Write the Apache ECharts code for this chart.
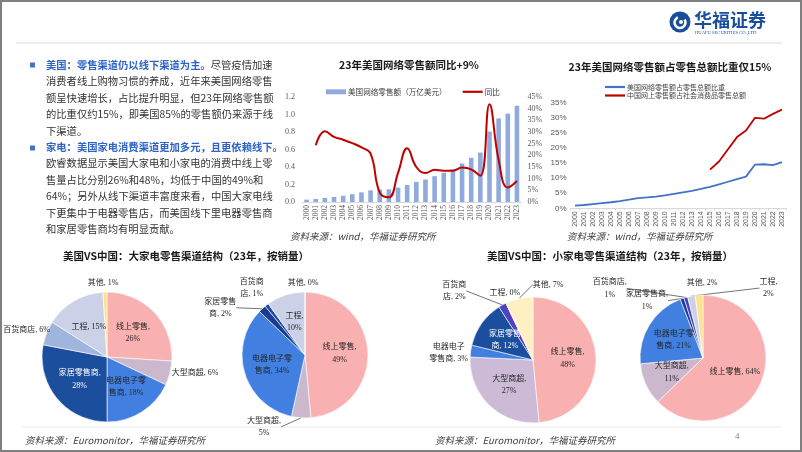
<!DOCTYPE html>
<html><head><meta charset="utf-8">
<script src="https://cdn.jsdelivr.net/npm/echarts@6/dist/echarts.min.js"></script>
<style>html,body{margin:0;padding:0;background:#fff}#c{width:802px;height:452px}</style>
</head><body><div id="c"></div>
<script>
// ---------------- data ----------------
const years = ['2000','2001','2002','2003','2004','2005','2006','2007','2008','2009','2010','2011','2012','2013','2014','2015','2016','2017','2018','2019','2020','2021','2022','2023'];
const usOnlineSales = [0.027,0.034,0.047,0.057,0.071,0.089,0.110,0.133,0.142,0.145,0.164,0.195,0.230,0.258,0.295,0.335,0.375,0.440,0.505,0.565,0.805,0.955,1.010,1.100];
const usOnlineYoY = [null,24.3,30.3,27.9,26.7,25.2,23.4,20.7,4.0,2.0,12.5,23.0,15.0,12.4,13.8,13.4,13.4,14.8,14.0,11.2,41.9,18.0,6.2,9.0];
const usOnlineShare = [0.9,1.1,1.4,1.7,2.0,2.4,2.9,3.4,3.6,3.9,4.3,4.8,5.3,5.8,6.4,7.1,7.9,8.8,9.7,10.5,14.5,14.6,14.3,15.3];
const cnOnlineShare = [null,null,null,null,null,null,null,null,null,null,null,null,null,null,null,12.8,15.5,19.6,23.6,25.8,30.0,29.7,31.3,32.7];
const leftAxisTicks = [0,0.2,0.4,0.6,0.8,1.0,1.2];
const channels = ['线上零售','大型商超','电器电子零售商','家居零售商','百货商店','工程','其他'];
const usBigApp = [26,6,18,28,6,15,1];
const cnBigApp = [49,5,34,2,1,10,0];
const usSmallApp = [48,27,3,12,2,0,7];
const cnSmallApp = [64,11,21,1,1,2,2];

// ---------------- helpers ----------------
const CJK = '"Noto Sans CJK SC", sans-serif';
const SERIF = '"Liberation Serif", "Noto Sans CJK SC", serif';
const SANS = '"Liberation Sans", "Noto Sans CJK SC", sans-serif';
function txt(x, y, text, o) {
  return {type:'text', x:x, y:y, silent:true, z:10,
    style: Object.assign({text:text, fill:'#333', fontSize:10, fontFamily:CJK,
      align:'left', verticalAlign:'middle', textAlign:'left', textVerticalAlign:'middle'}, o||{})};
}
// outside: per slice [showLine, offsetX, offsetY] of the label centre from the slice's outer mid point
function pie(center, radius, values, colors, tpls, outside, whiteIdx) {
  return {
    type:'pie', center:center, radius:radius, startAngle:90, clockwise:true,
    avoidLabelOverlap:false, z:3,
    itemStyle:{borderColor:'#fff', borderWidth:0.6},
    label:{position:'inside', fontSize:8, fontFamily:SERIF, color:'#262626', lineHeight:12.5, distanceToLabelLine:0},
    labelLine:{lineStyle:{color:'#3a3a3a', width:0.7}},
    labelLayout: function (p) {
      const a = outside[p.dataIndex];
      if (!a) return {};
      const r = p.labelRect;
      const ax = p.align === 'right' ? r.x + r.width : (p.align === 'center' ? r.x + r.width / 2 : r.x);
      const ay = r.y + r.height / 2;
      return {x: ax + a[1], y: ay + a[2], align:'center', verticalAlign:'middle'};
    },
    data: channels.map(function (n, i) {
      const d = {name:n, value:values[i], itemStyle:{color:colors[i]},
        label:{formatter: tpls[i].replace('{v}', values[i])}};
      if (whiteIdx.indexOf(i) >= 0) d.label.color = '#fff';
      if (outside[i]) {
        d.label.position = 'outside';
        d.labelLine = {show: outside[i][0], length:0, length2:0};
      }
      return d;
    })
  };
}

const leftLines = [
  '{b|美国：零售渠道仍以线下渠道为主。}{n|尽管疫情加速}',
  '{n|消费者线上购物习惯的养成，近年来美国网络零售}',
  '{n|额呈快速增长，占比提升明显，但23年网络零售额}',
  '{n|的比重仅约15%，即美国85%的零售额仍来源于线}',
  '{n|下渠道。}',
  '{b|家电：美国家电消费渠道更加多元，且更依赖线下。}',
  '{n|欧睿数据显示美国大家电和小家电的消费中线上零}',
  '{n|售量占比分别26%和48%，均低于中国的49%和}',
  '{n|64%；另外从线下渠道丰富度来看，中国大家电线}',
  '{n|下更集中于电器零售店，而美国线下里电器零售商}',
  '{n|和家居零售商均有明显贡献。}'
];
const graphics = [];
graphics.push({type:'rect', silent:true, shape:{x:1, y:1, width:800, height:450}, style:{fill:'none', stroke:'#7f7f7f', lineWidth:2}});
graphics.push({type:'line', silent:true, shape:{x1:16, y1:43, x2:782, y2:43}, style:{stroke:'#dcdcdc', lineWidth:1}});
graphics.push({type:'line', silent:true, shape:{x1:22, y1:427, x2:782, y2:427}, style:{stroke:'#ececec', lineWidth:1}});
// logo
graphics.push({type:'circle', silent:true, shape:{cx:680, cy:22, r:10.5}, style:{fill:'#1b4d9d'}});
graphics.push({type:'arc', silent:true, shape:{cx:680, cy:22.5, r:5.5, startAngle:-0.6, endAngle:4.3}, style:{stroke:'#fff', lineWidth:2.6, fill:'none'}});
graphics.push({type:'circle', silent:true, shape:{cx:681, cy:22, r:2}, style:{fill:'#fff'}});
graphics.push(txt(694, 20, '华福证券', {fill:'#1b4d9d', fontSize:18, fontWeight:'bold', fontFamily:'"Noto Sans CJK SC"'}));
graphics.push(txt(695, 32.5, 'HUAFU SECURITIES CO.,LTD', {fill:'#1b4d9d', fontSize:4.6, fontFamily:SERIF}));
// left text
leftLines.forEach(function (s, i) {
  graphics.push(txt(46, 65 + i * 16.4, s, {rich:{
    b:{fill:'#2e63c7', fontWeight:'bold', fontSize:10.3, fontFamily:CJK},
    n:{fill:'#333333', fontSize:10.3, fontFamily:CJK}}}));
});
graphics.push({type:'rect', silent:true, shape:{x:30, y:62.5, width:5, height:5}, style:{fill:'#4472c4'}});
graphics.push({type:'rect', silent:true, shape:{x:30, y:145.5, width:5, height:5}, style:{fill:'#4472c4'}});
// titles
const titleStyle = {fontSize:10.5, fontWeight:'bold', fill:'#1a1a1a', align:'center', textAlign:'center'};
graphics.push(txt(409, 65, '23年美国网络零售额同比+9%', titleStyle));
graphics.push(txt(670, 67, '23年美国网络零售额占零售总额比重仅15%', titleStyle));
graphics.push(txt(186, 256, '美国VS中国：大家电零售渠道结构（23年，按销量）', titleStyle));
graphics.push(txt(610, 256, '美国VS中国：小家电零售渠道结构（23年，按销量）', titleStyle));
// sources
const srcStyle = {fontSize:9.5, fontStyle:'italic', fill:'#404040'};
graphics.push(txt(290, 236, '资料来源：wind，华福证券研究所', srcStyle));
graphics.push(txt(567, 236, '资料来源：wind，华福证券研究所', srcStyle));
graphics.push(txt(25, 440, '资料来源：Euromonitor，华福证券研究所', srcStyle));
graphics.push(txt(435, 440, '资料来源：Euromonitor，华福证券研究所', srcStyle));
graphics.push(txt(735, 437, '4', {fontSize:9, fill:'#7f7f7f', fontFamily:SERIF}));

const axisLblSerif = {fontFamily:SERIF, fontSize:8, color:'#595959'};
const axisLblSans = {fontFamily:SANS, fontSize:7.5, color:'#595959'};
const linePath = 'path://M0,0L20,0L20,2.2L0,2.2Z';

const option = {
  animation:false,
  backgroundColor:'#fff',
  grid:[
    {left:302, top:97, width:219.5, height:105, containLabel:false},
    {left:570.5, top:102.7, width:216, height:105.6, containLabel:false}
  ],
  legend:[
    {left:326, top:88, itemWidth:20, itemHeight:5, itemGap:16, padding:0,
     textStyle:{fontSize:7.6, fontFamily:CJK, color:'#404040', padding:[0,0,0,-3]},
     data:[{name:'美国网络零售额（万亿美元）', icon:'rect'}, {name:'同比', icon:linePath}]},
    {left:605, top:83.5, orient:'vertical', itemWidth:20, itemHeight:6, itemGap:1.5, padding:0,
     textStyle:{fontSize:7, fontFamily:CJK, color:'#404040', padding:[0,0,0,-3]},
     data:[{name:'美国网络零售额占零售总额比重', icon:linePath}, {name:'中国网上零售额占社会消费品零售总额', icon:linePath}]}
  ],
  xAxis:[
    {type:'category', gridIndex:0, data:years, boundaryGap:true,
     axisLine:{show:true, lineStyle:{color:'#d9d9d9'}}, axisTick:{show:false},
     axisLabel:Object.assign({rotate:90, interval:0, margin:3}, axisLblSerif, {fontSize:7.5})},
    {type:'category', gridIndex:1, data:years, boundaryGap:true,
     axisLine:{show:true, lineStyle:{color:'#d9d9d9'}}, axisTick:{show:true, length:2, lineStyle:{color:'#d9d9d9'}},
     axisLabel:Object.assign({rotate:90, interval:0, margin:3}, axisLblSans, {fontSize:7})}
  ],
  yAxis:[
    {type:'value', gridIndex:0, min:leftAxisTicks[0], max:leftAxisTicks[leftAxisTicks.length-1], interval:0.2,
     splitLine:{show:false}, axisLine:{show:false}, axisTick:{show:false},
     axisLabel:Object.assign({margin:7, formatter:function(v){return v.toFixed(1);}}, axisLblSerif)},
    {type:'value', gridIndex:0, position:'right', min:0, max:45, interval:5,
     splitLine:{show:false}, axisLine:{show:false}, axisTick:{show:false},
     axisLabel:Object.assign({margin:6, formatter:'{value}%'}, axisLblSerif)},
    {type:'value', gridIndex:1, min:0, max:35, interval:5,
     splitLine:{show:false}, axisLine:{show:false}, axisTick:{show:false},
     axisLabel:Object.assign({margin:4, formatter:'{value}%'}, axisLblSans, {fontSize:8})}
  ],
  series:[
    {name:'美国网络零售额（万亿美元）', type:'bar', xAxisIndex:0, yAxisIndex:0, data:usOnlineSales,
     barWidth:4.6, itemStyle:{color:'#8faadc'}, z:2},
    {name:'同比', type:'line', xAxisIndex:0, yAxisIndex:1, data:usOnlineYoY, smooth:0.45,
     symbol:'none', lineStyle:{color:'#c00000', width:2}, itemStyle:{color:'#c00000'}, z:3},
    {name:'美国网络零售额占零售总额比重', type:'line', xAxisIndex:1, yAxisIndex:2, data:usOnlineShare,
     symbol:'none', lineStyle:{color:'#4472c4', width:1.8}, itemStyle:{color:'#4472c4'}},
    {name:'中国网上零售额占社会消费品零售总额', type:'line', xAxisIndex:1, yAxisIndex:2, data:cnOnlineShare,
     symbol:'none', lineStyle:{color:'#c00000', width:1.8}, itemStyle:{color:'#c00000'}},
    pie([107,357], 65, usBigApp,
      ['#f9b0b0','#cbb8cc','#4180e0','#1c4e9e','#a0b5de','#cbd2e8','#ffe28f'],
      ['线上零售,\n{v}%','大型商超, {v}%','电器电子零\n售商, {v}%','家居零售商,\n{v}%','百货商店, {v}%','工程, {v}%','其他, {v}%'],
      [null,[false,25,0],null,null,[false,-20,-3],null,[false,-2,-9]], [3]),
    pie([305,355], 63, cnBigApp,
      ['#f9b0b0','#cbb8cc','#4180e0','#1a3c8e','#1f4aa6','#cbd2e8','#ffe28f'],
      ['线上零售,\n{v}%','大型商超,\n{v}%','电器电子零\n售商, {v}%','家居零售\n商, {v}%','百货商\n店, {v}%','工程,\n{v}%','其他, {v}%'],
      [null,[true,-37,9],null,[true,-42,-1],[false,-15,-17],null,[false,-2,-9]], []),
    pie([533,360], 63, usSmallApp,
      ['#f9b0b0','#cdbad6','#4180e0','#1c4e9e','#4f42c0','#cbd2e8','#fff0c4'],
      ['线上零售,\n{v}%','大型商超,\n{v}%','电器电子\n零售商, {v}%','家居零售\n商, {v}%','百货商\n店, {v}%','工程, {v}%','其他, {v}%'],
      [null,null,[false,-22,2],null,[true,-48,-14],[false,-1,-10],[true,29,-14]], [3]),
    pie([703,358], 63, cnSmallApp,
      ['#f9b0b0','#cbb8cc','#4180e0','#1a3a8e','#4a40bf','#cbd2e8','#ffe28f'],
      ['线上零售, {v}%','大型商超,\n{v}%','电器电子零\n售商, {v}%','家居零售商,\n{v}%','百货商店,\n{v}%','工程,\n{v}%','其他, {v}%'],
      [null,null,null,[true,-35,2],[true,-76,-9],[true,77,-8],[false,3,-12]], [])
  ],
  graphic: graphics
};
const chart = echarts.init(document.getElementById('c'), null, {renderer:'canvas'});
chart.setOption(option);
</script></body></html>
